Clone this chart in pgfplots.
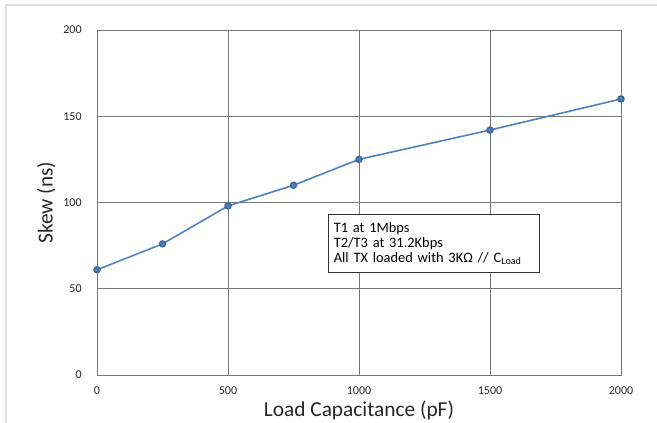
\documentclass[border=0pt]{standalone}
\usepackage{pgfplots}
\pgfplotsset{compat=1.18}
\usepackage{fontspec}
\setmainfont{Carlito}

\definecolor{exblue}{RGB}{79,129,189}
\definecolor{gridgray}{RGB}{120,120,120}
\definecolor{framegray}{RGB}{225,225,225}

\begin{document}
\begin{tikzpicture}[x=0.75pt,y=0.75pt]
    % page frame, 657 x 423 px, axis origin at (97,375) from the top left
    \useasboundingbox (-97,-48) rectangle (560,375);
    \draw[framegray, line width=0.8pt] (-91,-60) -- (-91,370) -- (570,370);

    \begin{axis}[
        scale only axis,
        width=393pt,
        height=258.75pt,
        xmin=0, xmax=2000,
        ymin=0, ymax=200,
        xtick={0,500,1000,1500,2000},
        ytick={0,50,100,150,200},
        grid=major,
        major grid style={gridgray, line width=0.6pt},
        axis line style={gridgray, line width=0.6pt},
        major tick length=0pt,
        tick label style={font=\fontsize{9}{11}\selectfont, text=black!85},
        /pgf/number format/assume math mode=true,
        /pgf/number format/set thousands separator={},
        xticklabel style={yshift=-5pt},
        yticklabel style={xshift=-8pt},
        xlabel={Load Capacitance (pF)},
        ylabel={Skew (ns)},
        label style={font=\fontsize{16}{19}\selectfont, text=black!85},
        xlabel style={yshift=2pt},
        ylabel style={yshift=-1pt},
        clip=false,
    ]

    \addplot[exblue, line width=1.2pt, mark=*, mark size=2.2pt,
             mark options={fill=exblue, draw=exblue!80!black}]
        coordinates {
        (0, 61)
        (250, 76)
        (500, 98)
        (750, 110)
        (1000, 125)
        (1500, 142)
        (2000, 160)
    };

    \node[draw=black!80, fill=white, line width=0.6pt, anchor=north west,
          align=left, inner xsep=4pt, inner ysep=6pt,
          font=\fontsize{10.8}{11.25}\selectfont, text width=150pt]
        at (axis cs:882,93.3)
        {T1 at 1Mbps\\
         T2/T3 at 31.2Kbps\\
         All TX loaded with 3KΩ // C\textsubscript{Load}};

    \end{axis}
\end{tikzpicture}
\end{document}
